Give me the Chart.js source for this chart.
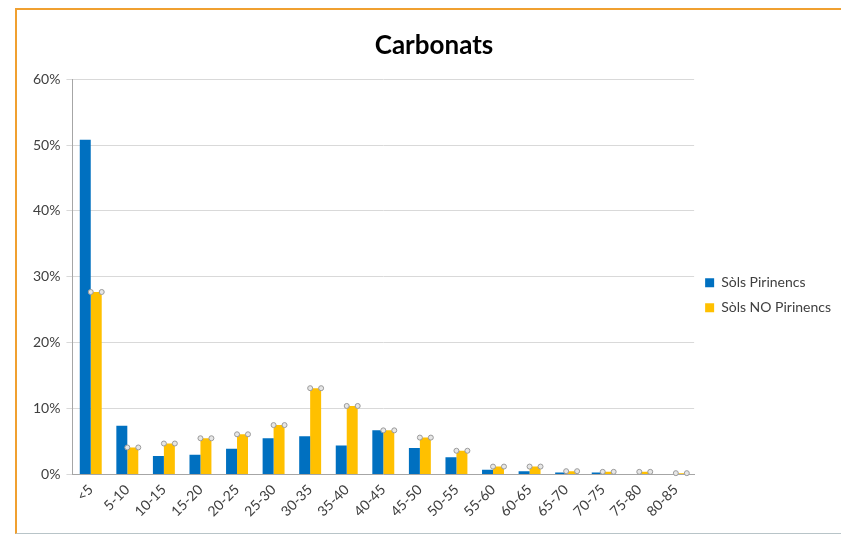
<!DOCTYPE html>
<html>
<head>
<meta charset="utf-8">
<script src="https://cdn.jsdelivr.net/npm/chart.js@4"></script>
<style>
    html, body { margin: 0; padding: 0; background: #ffffff; }
    body { width: 841px; height: 534px; position: relative; overflow: hidden; }
    #frame {
        position: absolute; left: 15px; top: 8px; width: 830px; height: 523px;
        border-top: 2px solid #f0a030; border-left: 2px solid #f0a030;
        border-bottom: 1px solid #b8c4c8;
    }
    #wrap { position: absolute; left: 18px; top: 11px; width: 823px; height: 520px; }
</style>
</head>
<body>
<div id="frame"></div>
<div id="wrap"><canvas id="chart"></canvas></div>
<script>
    let categories = ['<5', '5-10', '10-15', '15-20', '20-25', '25-30', '30-35', '35-40', '40-45',
        '45-50', '50-55', '55-60', '60-65', '65-70', '70-75', '75-80', '80-85'];
    let pirinencs = [50.8, 7.4, 2.8, 3.0, 3.9, 5.5, 5.8, 4.4, 6.7, 4.0, 2.6, 0.7, 0.5, 0.3, 0.3, 0, 0];
    let noPirinencs = [27.7, 4.1, 4.7, 5.5, 6.1, 7.5, 13.1, 10.4, 6.7, 5.6, 3.6, 1.2, 1.2, 0.5, 0.4, 0.4, 0.2];
    let yTicks = [0, 10, 20, 30, 40, 50, 60];

    // grey handle dots on the top corners of the selected series, like the Excel screenshot
    let handles = {
        id: 'handles',
        afterDatasetsDraw(chart) {
            let ctx = chart.ctx;
            chart.getDatasetMeta(1).data.forEach(bar => {
                let half = bar.width / 2;
                [bar.x - half, bar.x + half].forEach(x => {
                    ctx.beginPath();
                    ctx.arc(x, bar.y, 2.5, 0, Math.PI * 2);
                    ctx.fillStyle = '#e6e6e6';
                    ctx.fill();
                    ctx.lineWidth = 1;
                    ctx.strokeStyle = '#9a9a9a';
                    ctx.stroke();
                });
            });
        }
    };

    let config = {
        type: 'bar',
        data: {
            labels: categories,
            datasets: [
                { label: 'Sòls Pirinencs', data: pirinencs, backgroundColor: '#0070c0' },
                { label: 'Sòls NO Pirinencs', data: noPirinencs, backgroundColor: '#ffc000' }
            ]
        },
        options: {
            responsive: true,
            maintainAspectRatio: false,
            animation: false,
            layout: { padding: { left: 9, top: 19, right: 0, bottom: 9 } },
            datasets: { bar: { categoryPercentage: 0.6, barPercentage: 1.0 } },
            plugins: {
                title: {
                    display: true,
                    text: 'Carbonats',
                    color: '#000000',
                    font: { family: 'Lato', size: 26, weight: 'bold' },
                    padding: { top: 0, bottom: 18 }
                },
                legend: {
                    position: 'right',
                    title: { display: true, text: '', font: { size: 2 }, padding: { top: 18, bottom: 18 } },
                    labels: {
                        color: '#404040',
                        font: { family: 'Lato', size: 14 },
                        boxWidth: 9,
                        boxHeight: 9,
                        padding: 11
                    }
                },
                tooltip: { enabled: false }
            },
            scales: {
                x: {
                    grid: { display: false, drawTicks: true, tickLength: 5 },
                    border: { color: '#a6a6a6' },
                    ticks: {
                        color: '#404040',
                        font: { family: 'Lato', size: 14 },
                        minRotation: 45,
                        maxRotation: 45,
                        padding: 2
                    }
                },
                y: {
                    min: 0,
                    max: 60,
                    afterBuildTicks: axis => { axis.ticks = yTicks.map(v => ({ value: v })); },
                    grid: { color: '#d9d9d9', tickLength: 6 },
                    border: { color: '#a6a6a6' },
                    ticks: {
                        color: '#404040',
                        font: { family: 'Lato', size: 14 },
                        padding: 6,
                        callback: v => v + '%'
                    }
                }
            }
        },
        plugins: [handles]
    };

    new Chart(document.getElementById('chart').getContext('2d'), config);
</script>
</body>
</html>
